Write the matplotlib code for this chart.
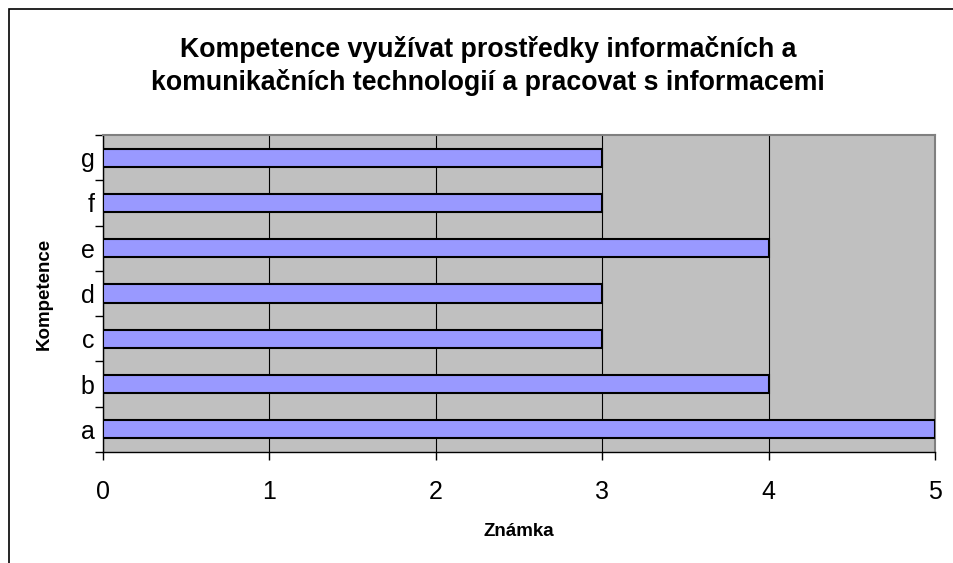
import matplotlib.pyplot as plt
from matplotlib.patches import Rectangle

# data
kategorie = ["a", "b", "c", "d", "e", "f", "g"]
znamky = [5, 4, 3, 3, 4, 3, 3]
x_ticks = [0, 1, 2, 3, 4, 5]

titulek = "Kompetence využívat prostředky informačních a\nkomunikačních technologií a pracovat s informacemi"

plt.rcParams['font.family'] = ['Liberation Sans', 'DejaVu Sans']

W, H = 954, 563
fig = plt.figure(figsize=(W / 100, H / 100), dpi=100)

# plocha grafu (pixely z reference)
left, right, top, bottom = 103, 935, 135, 452
ax = fig.add_axes([left / W, 1 - bottom / H, (right - left) / W, (bottom - top) / H])
ax.set_facecolor("#C0C0C0")

pos = list(range(len(kategorie)))
ax.barh(pos, znamky, height=0.4, color="#9999FF", edgecolor="black", linewidth=1.5, zorder=3)

ax.set_xlim(0, 5)
ax.set_ylim(-0.5, len(kategorie) - 0.5)
ax.set_xticks(x_ticks)
ax.set_xticklabels([str(t) for t in x_ticks], fontsize=18)
ax.tick_params(axis="x", length=6, width=1, pad=14)

# popisky kategorii mezi tickami
ax.set_yticks([p - 0.5 for p in range(len(kategorie) + 1)])
ax.set_yticklabels([])
ax.set_yticks(pos, minor=True)
ax.set_yticklabels(kategorie, minor=True, fontsize=18)
ax.tick_params(axis="y", which="major", length=6, width=1)
ax.tick_params(axis="y", which="minor", length=0, pad=6)

ax.grid(axis="x", color="black", linewidth=0.8, zorder=1)
ax.set_axisbelow(True)

for s in ["top", "right"]:
    ax.spines[s].set_color("#808080")
    ax.spines[s].set_linewidth(1.5)
for s in ["left", "bottom"]:
    ax.spines[s].set_color("black")
    ax.spines[s].set_linewidth(1)

ax.set_xlabel("Známka", fontsize=13.5, fontweight="bold", labelpad=14)
ax.set_ylabel("Kompetence", fontsize=13.5, fontweight="bold", labelpad=20)

fig.text(488 / W, 1 - 66 / H, titulek, ha="center", va="center", fontsize=19.3,
         fontweight="bold", linespacing=1.25)

# ramecek kolem grafu
fig.add_artist(Rectangle((9 / W, -0.1), 1.2, 1 - 9 / H + 0.1, transform=fig.transFigure,
                         fill=False, edgecolor="black", linewidth=1.2))

fig.savefig("out.png", dpi=100)
